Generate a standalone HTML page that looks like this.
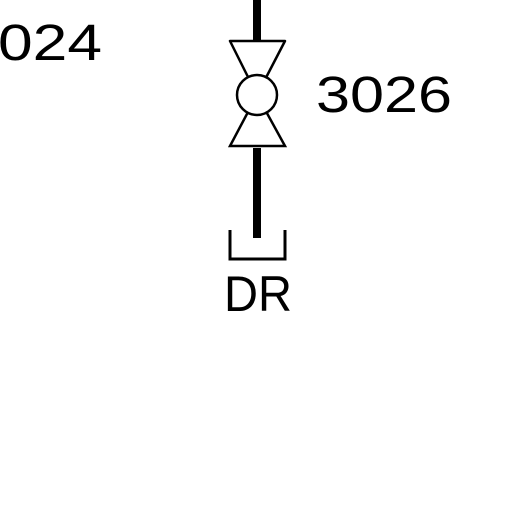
<!DOCTYPE html>
<html><head><style>
html,body{margin:0;padding:0;background:#fff;width:512px;height:512px;overflow:hidden}
text{font-family:"Liberation Sans",sans-serif;fill:#000}
</style></head><body>
<svg width="512" height="512" viewBox="0 0 512 512">
<rect width="512" height="512" fill="#fff"/>
<line x1="257" y1="0" x2="257" y2="40" stroke="#000" stroke-width="8"/>
<g fill="none" stroke="#000" stroke-width="2.5">
<polygon points="230,41 285,41 257,95" stroke-linejoin="round"/>
<polygon points="230,146 285,146 257,95"/>
<circle cx="257" cy="95" r="20" fill="#fff"/>
</g>
<line x1="257" y1="148" x2="257" y2="238" stroke="#000" stroke-width="8"/>
<polyline points="230,230 230,259 285,259 285,230" fill="none" stroke="#000" stroke-width="3"/>
<text x="224" y="311" font-size="50" textLength="68" lengthAdjust="spacingAndGlyphs">DR</text>
<text x="316" y="112" font-size="51" textLength="136" lengthAdjust="spacingAndGlyphs">3026</text>
<text x="-2" y="60" font-size="51" textLength="104" lengthAdjust="spacingAndGlyphs">024</text>
</svg>
</body></html>
